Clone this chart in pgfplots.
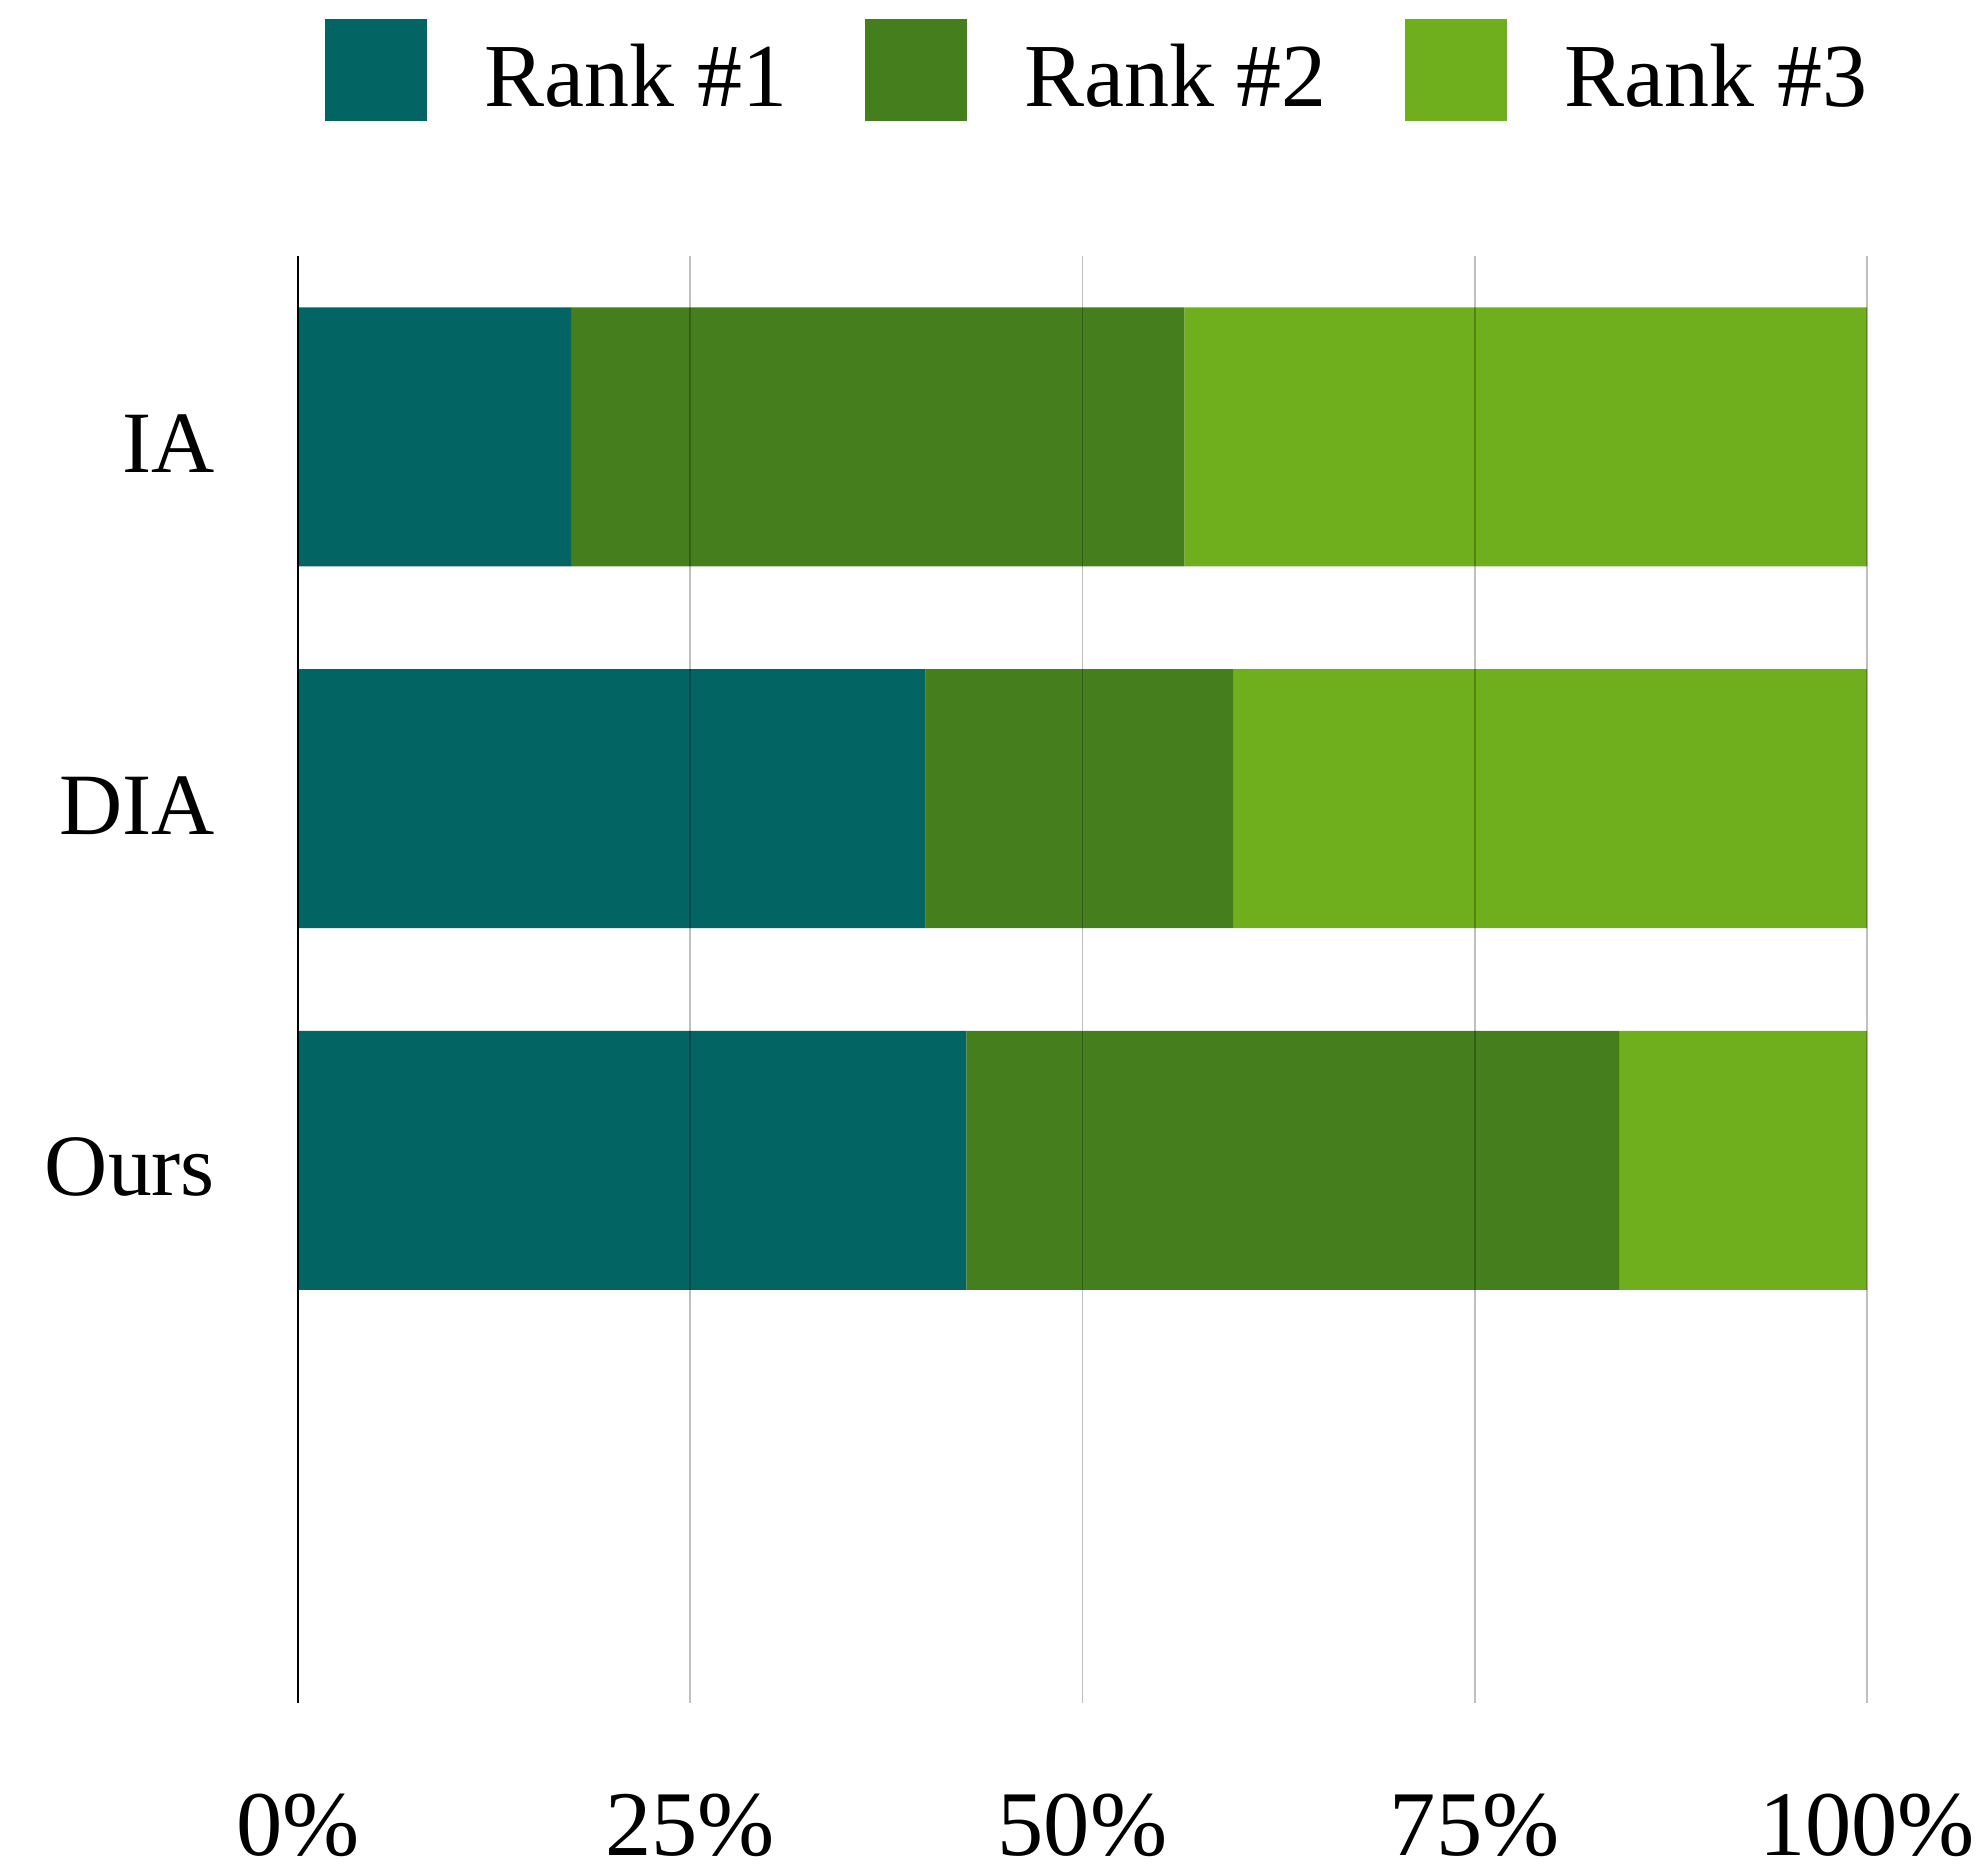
\documentclass[border=0pt]{standalone}
\usepackage{fontspec}
\setmainfont{Liberation Serif}
\usepackage{pgfplots}
\pgfplotsset{compat=1.18}
\definecolor{rone}{HTML}{026463}
\definecolor{rtwo}{HTML}{457F1D}
\definecolor{rthree}{HTML}{6FAF1E}
\begin{document}
\begin{tikzpicture}
\useasboundingbox (-59.6pt,-34.4pt) rectangle (336.8pt,340.6pt);
\begin{axis}[
  at={(0pt,0pt)}, anchor=south west,
  scale only axis, width=313.8pt, height=289.4pt,
  xbar stacked, bar width=51.8pt,
  xmin=0, xmax=100, ymin=-0.5, ymax=3.5,
  axis lines*=left,
  x axis line style={draw=none},
  y axis line style={black, line width=0.5pt},
  tick style={draw=none},
  xtick={0,25,50,75,100},
  xticklabels={0\%,25\%,50\%,75\%,100\%},
  ytick={1,2,3},
  yticklabels={Ours,DIA,IA},
  xmajorgrids, ymajorgrids=false,
  major grid style={black, opacity=0.25, line width=0.35pt},
  axis on top,
  xticklabel style={font=\fontsize{18.5}{20}\selectfont, anchor=base, inner sep=0pt, yshift=-30.4pt},
  yticklabel style={font=\fontsize{17.5}{20}\selectfont, anchor=base east, inner sep=0pt, xshift=-16.4pt, yshift=-7.1pt},
  every axis plot post/.append style={legend image code/.code={\fill[##1, draw=none] (2pt,-8.4pt) rectangle (22.4pt,12pt); \path (34pt,0pt);}},
  legend columns=3,
  legend style={at={(1,1)}, anchor=south east, yshift=27pt, draw=none, inner sep=0pt, outer sep=0pt, column sep=0pt, font=\fontsize{18}{20}\selectfont, nodes={inner sep=0pt}, /tikz/every even column/.append style={column sep=15.5pt}},
]
\addplot[fill=rone, draw=none] coordinates {(17.4,3) (40.0,2) (42.6,1)};
\addplot[fill=rtwo, draw=none] coordinates {(39.1,3) (19.6,2) (41.6,1)};
\addplot[fill=rthree, draw=none] coordinates {(43.5,3) (40.4,2) (15.8,1)};
\legend{Rank \#1, Rank \#2, Rank \#3}
\end{axis}
\end{tikzpicture}
\end{document}
